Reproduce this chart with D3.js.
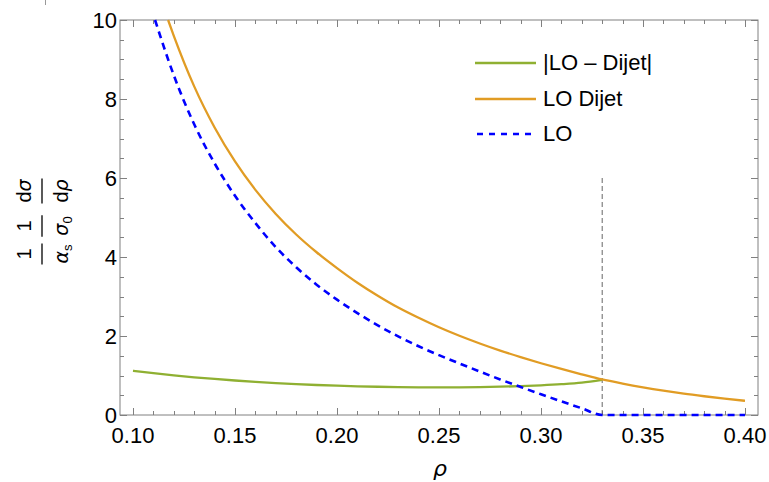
<!DOCTYPE html>
<html>
<head>
<meta charset="utf-8">
<script src="https://cdn.jsdelivr.net/npm/d3@7"></script>
<style>
  html, body { margin: 0; padding: 0; background: #fff; }
  svg { display: block; font-family: "Liberation Sans", Arial, Helvetica, sans-serif; }
</style>
</head>
<body>
<svg id="chart" width="769" height="482"></svg>
<script>
// LO Dijet differential rate
const rhoDijet = [0.1172, 0.12, 0.13, 0.14, 0.15, 0.16, 0.17, 0.18, 0.19, 0.20, 0.21, 0.22, 0.23, 0.24, 0.25,
                  0.26, 0.27, 0.28, 0.29, 0.30, 0.31, 0.32, 0.33, 0.34, 0.35, 0.36, 0.37, 0.38, 0.39, 0.40];
const valDijet = [10.0, 9.60, 8.32, 7.28, 6.42, 5.70, 5.09, 4.57, 4.12, 3.72, 3.35, 3.02, 2.72, 2.46, 2.22,
                  2.005, 1.81, 1.63, 1.465, 1.31, 1.165, 1.03, 0.90, 0.795, 0.70, 0.615, 0.54, 0.475, 0.415, 0.36];

// LO differential rate (vanishes above the kinematic endpoint)
const rhoLO = [0.1108, 0.12, 0.13, 0.14, 0.15, 0.16, 0.17, 0.18, 0.19, 0.20, 0.21, 0.22, 0.23, 0.24, 0.25,
               0.26, 0.27, 0.28, 0.29, 0.30, 0.31, 0.32, 0.33, 0.34, 0.35, 0.36, 0.37, 0.38, 0.39, 0.40];
const valLO = [10.0, 8.60, 7.36, 6.37, 5.55, 4.86, 4.25, 3.74, 3.30, 2.92, 2.58, 2.27, 1.99, 1.74, 1.515,
               1.305, 1.10, 0.90, 0.71, 0.525, 0.345, 0.17, 0.0, 0.0, 0.0, 0.0, 0.0, 0.0, 0.0, 0.0];

// |LO - Dijet| difference
const rhoDiff = [0.10, 0.11, 0.12, 0.13, 0.14, 0.15, 0.16, 0.17, 0.18, 0.19, 0.20, 0.21, 0.22,
                 0.23, 0.24, 0.25, 0.26, 0.27, 0.28, 0.29, 0.30, 0.31, 0.32, 0.33];
const valDiff = [1.12, 1.06, 1.005, 0.955, 0.912, 0.873, 0.838, 0.808, 0.782, 0.76, 0.742, 0.727, 0.715,
                 0.706, 0.70, 0.698, 0.70, 0.706, 0.716, 0.731, 0.752, 0.78, 0.82, 0.89];

// kinematic endpoint marker
const rhoEdge = 0.33;
const edgeTop = 6;

const xMajor = [0.10, 0.15, 0.20, 0.25, 0.30, 0.35, 0.40];
const xMajorLabels = ["0.10", "0.15", "0.20", "0.25", "0.30", "0.35", "0.40"];
const yMajor = [0, 2, 4, 6, 8, 10];
const yMajorLabels = ["0", "2", "4", "6", "8", "10"];

const legendLabels = ["|LO \u2013 Dijet|", "LO Dijet", "LO"];

const colGreen = "#8fb032", colOrange = "#e19c24", colBlue = "#0000ff";

const svg = d3.select("#chart");
const frame = { left: 120, right: 758, top: 20, bottom: 415 };

const x = d3.scaleLinear().domain([0.10, 0.40]).range([133, 745]);
const y = d3.scaleLinear().domain([0, 10]).range([frame.bottom, frame.top]);

const axisColor = "#808080";
const fontSize = 22;

// frame
svg.append("rect")
  .attr("x", frame.left).attr("y", frame.top)
  .attr("width", frame.right - frame.left).attr("height", frame.bottom - frame.top)
  .attr("fill", "none").attr("stroke", axisColor).attr("stroke-width", 1);

// inward ticks on all four sides
const xMinor = d3.range(0.10, 0.4001, 0.01).map(v => +v.toFixed(2)).filter(v => !xMajor.some(m => Math.abs(m - v) < 1e-9));
const yMinor = d3.range(0, 10.001, 0.5).filter(v => !yMajor.includes(v));
const majLen = 7, minLen = 4;
const ticks = svg.append("g").attr("stroke", axisColor).attr("stroke-width", 1);

function xTicks(vals, len) {
  vals.forEach(v => {
    const px = Math.round(x(v)) + 0.5;
    ticks.append("line").attr("x1", px).attr("x2", px).attr("y1", frame.bottom).attr("y2", frame.bottom - len);
    ticks.append("line").attr("x1", px).attr("x2", px).attr("y1", frame.top).attr("y2", frame.top + len);
  });
}
function yTicks(vals, len) {
  vals.forEach(v => {
    const py = Math.round(y(v)) + 0.5;
    ticks.append("line").attr("y1", py).attr("y2", py).attr("x1", frame.left).attr("x2", frame.left + len);
    ticks.append("line").attr("y1", py).attr("y2", py).attr("x1", frame.right).attr("x2", frame.right - len);
  });
}
xTicks(xMajor, majLen); xTicks(xMinor, minLen);
yTicks(yMajor, majLen); yTicks(yMinor, minLen);

// tick labels
svg.append("g").selectAll("text").data(xMajor).join("text")
  .attr("x", d => x(d)).attr("y", 443)
  .attr("text-anchor", "middle").attr("font-size", fontSize).attr("fill", "#000")
  .text((d, i) => xMajorLabels[i]);

svg.append("g").selectAll("text").data(yMajor).join("text")
  .attr("x", 117).attr("y", d => y(d) + 8)
  .attr("text-anchor", "end").attr("font-size", fontSize).attr("fill", "#000")
  .text((d, i) => yMajorLabels[i]);

// x axis title
svg.append("text").attr("x", x(0.25) + 1).attr("y", 476)
  .attr("text-anchor", "middle").attr("font-size", 22).attr("font-style", "italic")
  .attr("font-family", "'DejaVu Sans', sans-serif")
  .text("\u03c1");

// y axis title: (1/α_s)(1/σ_0)(dσ/dρ), rotated
const yt = svg.append("g").attr("transform", "translate(42,223) rotate(-90)");
const fracs = [
  { c: -31, num: [["1", ""]], den: [["\u03b1", "i"], ["s", "sub"]] },
  { c: -3, num: [["1", ""]], den: [["\u03c3", "i"], ["0", "sub"]] },
  { c: 32, num: [["d", ""], ["\u03c3", "i"]], den: [["d", ""], ["\u03c1", "i"]] }
];
function addParts(g, parts, yy) {
  const t = g.append("text").attr("y", yy).attr("text-anchor", "middle").attr("font-size", 20);
  parts.forEach(([s, k]) => {
    const ts = t.append("tspan").text(s);
    if (k === "i") ts.attr("font-style", "italic").attr("font-family", "'DejaVu Sans', sans-serif").attr("font-size", 19);
    if (k === "sub") ts.attr("font-size", 13).attr("dy", 4);
  });
  return t;
}
fracs.forEach(f => {
  const g = yt.append("g").attr("transform", `translate(${f.c},0)`);
  const n = addParts(g, f.num, -11);
  const d = addParts(g, f.den, 26);
  const w = Math.max(n.node().getComputedTextLength(), d.node().getComputedTextLength());
  g.append("line").attr("x1", -w / 2 - 1).attr("x2", w / 2 + 1).attr("y1", 0).attr("y2", 0)
    .attr("stroke", "#000").attr("stroke-width", 1.3);
});

// small stray stroke at the top-left corner
svg.append("line").attr("x1", 45.5).attr("x2", 45.5).attr("y1", 0).attr("y2", 5)
  .attr("stroke", "#999").attr("stroke-width", 1);

// curves
const line = d3.line().x(d => x(d[0])).y(d => y(d[1])).curve(d3.curveMonotoneX);
const zip = (a, b) => a.map((v, i) => [v, b[i]]);

// endpoint marker
svg.append("line")
  .attr("x1", x(rhoEdge)).attr("x2", x(rhoEdge))
  .attr("y1", y(edgeTop)).attr("y2", y(0))
  .attr("stroke", "#666").attr("stroke-width", 1).attr("stroke-dasharray", "5,3");

svg.append("path").datum(zip(rhoDiff, valDiff)).attr("d", line)
  .attr("fill", "none").attr("stroke", colGreen).attr("stroke-width", 2.3);
svg.append("path").datum(zip(rhoDijet, valDijet)).attr("d", line)
  .attr("fill", "none").attr("stroke", colOrange).attr("stroke-width", 2.3);
svg.append("path").datum(zip(rhoLO, valLO)).attr("d", line)
  .attr("fill", "none").attr("stroke", colBlue).attr("stroke-width", 2.6)
  .attr("stroke-dasharray", "7,5");

// legend
const legend = svg.append("g");
const legendStyles = [
  { c: colGreen, w: 2.3, dash: null, yy: 63 },
  { c: colOrange, w: 2.3, dash: null, yy: 99 },
  { c: colBlue, w: 2.6, dash: "6,6", yy: 134 }
];
legendStyles.forEach((s, i) => {
  const l = legend.append("line").attr("x1", 475).attr("x2", 536).attr("y1", s.yy).attr("y2", s.yy)
    .attr("stroke", s.c).attr("stroke-width", s.w);
  if (s.dash) l.attr("stroke-dasharray", s.dash).attr("x1", 477);
  legend.append("text").attr("x", 543).attr("y", s.yy + 7)
    .attr("font-size", fontSize).attr("fill", "#000").text(legendLabels[i]);
});
</script>
</body>
</html>
